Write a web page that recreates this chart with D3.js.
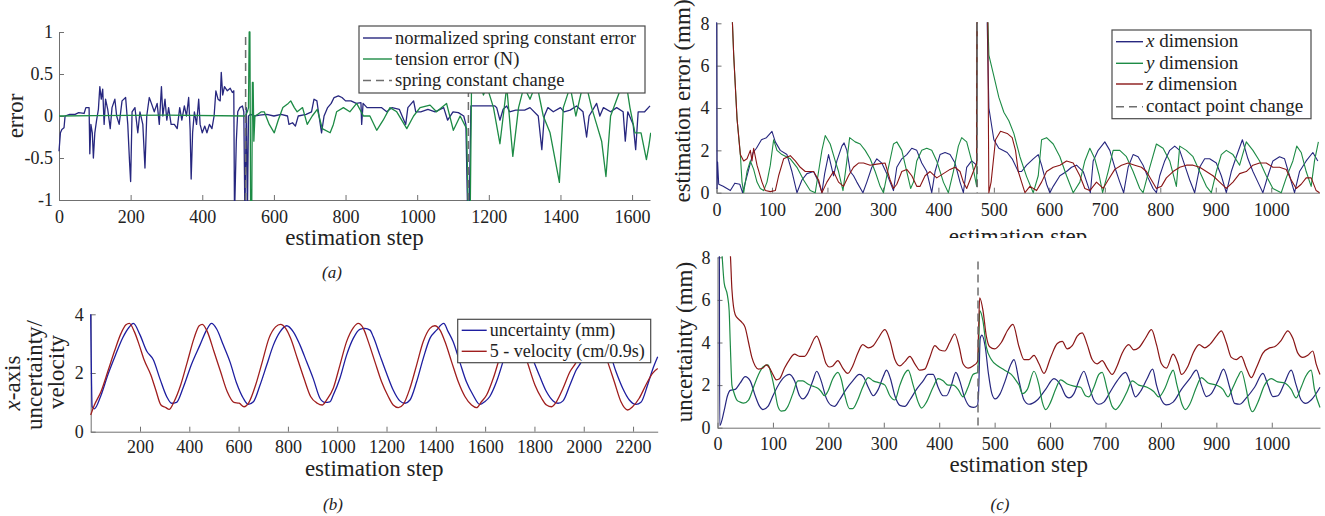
<!DOCTYPE html>
<html>
<head>
<meta charset="utf-8">
<script src="https://cdn.jsdelivr.net/npm/d3@7"></script>
<style>
  body { margin: 0; background: #fff; }
  svg, svg text { font-family: "Liberation Serif", "DejaVu Serif", "Noto Serif", serif; }
  .axis path, .axis line { stroke: #707070; stroke-width: 1; }
  .axis text { fill: #222; }
  .axis-label { fill: #222; font-size: 23px; }
  .legend-text { fill: #222; }
  .caption { fill: #222; font-size: 17px; font-style: italic; }
</style>
</head>
<body>
<div id="chart"></div>
<script>
// ---------- tick labels ----------
const stepTicksA = [0, 200, 400, 600, 800, 1000, 1200, 1400, 1600];
const errorTicks = [-1, -0.5, 0, 0.5, 1];
const stepTicksB = [200, 400, 600, 800, 1000, 1200, 1400, 1600, 1800, 2000, 2200];
const valueTicksB = [0, 2, 4];
const stepTicksC = [0, 100, 200, 300, 400, 500, 600, 700, 800, 900, 1000];
const mmTicksC = [0, 2, 4, 6, 8];

// ---------- (a) spring constant / tension error ----------
const springChangeSteps = [521, 1143];
const springError = [[0,-0.42],[4,-0.2],[8,-0.16],[14,-0.14],[17,0.0],[30,0.02],[45,0.02],[55,0.04],[70,0.03],[75,0.1],[84,0.1],[86,-0.45],[89,-0.1],[93,-0.2],[96,-0.5],[100,-0.2],[105,-0.05],[110,0.08],[114,0.35],[118,0.2],[122,0.32],[126,-0.1],[130,0.2],[136,0.08],[143,-0.15],[148,0.1],[156,0.2],[161,0.0],[168,-0.1],[176,0.18],[186,0.22],[192,-0.1],[197,-0.55],[200,-0.78],[204,0.05],[212,0.1],[220,-0.2],[226,0.05],[234,-0.1],[240,-0.62],[245,0.0],[252,0.22],[258,0.15],[266,0.05],[274,0.15],[280,-0.1],[286,0.35],[290,0.0],[296,0.2],[301,-0.05],[306,0.1],[313,-0.1],[322,-0.1],[330,-0.15],[337,0.1],[343,-0.05],[350,0.12],[356,0.0],[362,0.22],[366,-0.15],[369,-0.75],[373,-0.2],[378,0.05],[384,-0.1],[390,0.2],[394,-0.1],[400,-0.2],[407,-0.12],[413,-0.2],[420,-0.1],[427,-0.15],[433,0.0],[438,0.3],[444,0.2],[450,0.18],[453,0.52],[457,0.25],[462,0.35],[470,0.3],[478,0.33],[484,0.28],[488,0.3],[490,-1.2],[495,-0.3],[499,0.05],[505,0.1],[512,0.12],[516,0.05],[519,-1.2],[523,0.1],[526,-1.2],[529,0.0],[535,0.02],[545,0.0],[560,0.01],[580,0.02],[600,0.0],[620,0.02],[638,0.0],[642,-0.1],[652,-0.08],[660,-0.12],[668,0.0],[690,0.02],[705,0.05],[712,0.2],[720,0.18],[726,0.0],[733,-0.2],[740,0.0],[750,0.1],[760,0.15],[768,0.22],[780,0.24],[790,0.22],[800,0.18],[815,0.18],[830,0.15],[843,0.16],[845,-0.1],[849,0.15],[860,0.1],[880,0.1],[900,0.1],[915,0.05],[930,0.1],[950,0.08],[968,-0.1],[974,0.1],[990,0.18],[996,0.05],[1010,0.05],[1030,0.08],[1050,0.05],[1074,0.1],[1085,-0.05],[1100,0.05],[1115,0.04],[1130,0.0],[1136,-0.1],[1141,-1.2],[1145,-1.2],[1150,0.12],[1180,0.12],[1217,0.12],[1222,0.1],[1231,-0.05],[1240,0.08],[1250,0.12],[1258,0.05],[1275,0.07],[1300,0.07],[1315,0.1],[1338,0.0],[1348,-0.4],[1355,0.0],[1365,0.1],[1380,0.05],[1400,0.1],[1410,0.05],[1427,0.07],[1445,0.12],[1463,0.05],[1473,-0.25],[1480,0.0],[1501,0.15],[1510,0.0],[1520,0.1],[1540,0.05],[1557,0.1],[1575,0.05],[1581,-0.3],[1588,0.05],[1603,-0.1],[1610,-0.4],[1617,0.05],[1635,0.05],[1650,0.12]];
const tensionError = [[0,0.0],[100,0.005],[300,0.01],[520,0.0],[526,0.05],[529,0.1],[531,1.0],[533,1.0],[535,-1.2],[538,-1.2],[540,0.4],[542,0.4],[544,-0.3],[547,0.0],[555,0.02],[565,0.05],[573,0.05],[587,-0.1],[601,-0.2],[612,-0.05],[625,0.1],[640,0.15],[647,0.18],[657,0.1],[665,0.05],[680,0.1],[693,-0.1],[707,0.0],[721,0.08],[735,-0.15],[757,-0.2],[766,-0.1],[775,0.05],[794,0.1],[812,0.05],[831,0.15],[850,0.0],[868,0.0],[887,-0.17],[905,-0.05],[924,0.1],[943,0.05],[971,-0.15],[990,0.0],[1008,0.1],[1036,0.13],[1054,0.05],[1082,0.15],[1101,-0.17],[1120,0.0],[1138,-0.15],[1143,-1.2],[1148,-1.2],[1152,0.5],[1160,0.4],[1172,0.45],[1185,0.25],[1195,0.35],[1213,0.1],[1231,-0.33],[1250,0.35],[1267,-0.48],[1283,0.1],[1298,0.35],[1315,0.2],[1333,0.4],[1352,0.0],[1371,-0.2],[1397,-0.79],[1408,0.1],[1427,0.35],[1443,0.0],[1459,0.3],[1473,0.35],[1487,0.1],[1501,-0.1],[1515,-0.3],[1527,-0.72],[1540,0.0],[1566,0.3],[1585,0.35],[1594,0.1],[1608,-0.2],[1625,-0.2],[1640,-0.52],[1647,-0.35],[1652,-0.2]];

// ---------- (b) x-axis uncertainty vs velocity ----------
const uncertaintyB = [[0,4.0],[6,0.85],[15,0.78],[40,1.2],[70,1.95],[100,2.6],[130,3.2],[155,3.55],[173,3.69],[200,3.3],[227,2.75],[254,2.45],[281,1.8],[308,1.2],[328,0.97],[348,1.0],[375,1.5],[409,2.3],[443,2.95],[470,3.46],[490,3.69],[511,3.5],[538,2.95],[565,2.38],[592,1.65],[619,1.14],[639,0.93],[660,1.02],[687,1.59],[714,2.27],[741,2.95],[768,3.4],[795,3.61],[822,3.4],[849,2.95],[876,2.38],[903,1.8],[930,1.14],[950,1.0],[970,1.02],[984,1.25],[1011,1.82],[1038,2.61],[1065,3.18],[1092,3.49],[1112,3.52],[1133,3.46],[1146,3.24],[1173,2.61],[1200,1.99],[1227,1.42],[1254,1.05],[1275,0.97],[1295,1.08],[1322,1.7],[1349,2.5],[1376,3.18],[1403,3.46],[1432,3.69],[1450,3.41],[1470,3.07],[1497,2.38],[1524,1.7],[1551,1.25],[1578,0.93],[1598,1.02],[1619,1.2],[1646,1.7],[1680,2.6],[1705,3.3],[1728,3.62],[1755,3.3],[1795,2.44],[1822,1.88],[1849,1.36],[1876,1.05],[1896,0.97],[1916,1.05],[1944,1.59],[1970,2.11],[1990,2.38],[2025,3.2],[2055,3.62],[2090,3.1],[2131,2.04],[2158,1.48],[2185,1.08],[2212,0.93],[2232,1.0],[2259,1.59],[2279,2.11],[2300,2.55]];
const velocityB = [[0,0.57],[15,0.91],[42,1.37],[69,2.04],[96,2.73],[123,3.35],[143,3.64],[157,3.69],[177,3.41],[197,2.95],[217,2.44],[244,1.93],[264,1.42],[285,0.91],[305,0.82],[318,0.76],[338,1.02],[365,1.59],[392,2.38],[419,3.18],[440,3.61],[453,3.66],[473,3.41],[500,2.73],[527,2.04],[554,1.36],[581,1.0],[602,0.97],[622,0.85],[642,1.0],[669,1.59],[696,2.38],[723,3.18],[750,3.57],[770,3.66],[791,3.52],[811,3.18],[838,2.5],[865,1.82],[892,1.2],[919,0.97],[939,0.91],[957,1.08],[984,1.48],[1011,2.27],[1038,3.07],[1065,3.54],[1085,3.69],[1106,3.52],[1126,3.07],[1153,2.38],[1180,1.7],[1207,1.2],[1227,0.91],[1248,0.82],[1268,0.93],[1295,1.48],[1322,2.27],[1349,3.07],[1376,3.52],[1396,3.61],[1417,3.46],[1437,3.07],[1464,2.38],[1491,1.7],[1518,1.2],[1545,0.91],[1565,0.82],[1585,1.02],[1606,1.25],[1633,1.82],[1665,2.7],[1690,3.35],[1712,3.62],[1740,3.2],[1775,2.27],[1802,1.59],[1829,1.14],[1849,0.91],[1870,0.85],[1889,1.02],[1916,1.48],[1944,2.04],[1970,2.38],[2005,3.2],[2035,3.62],[2065,3.1],[2097,2.38],[2124,1.7],[2151,1.02],[2178,0.74],[2198,0.85],[2225,1.14],[2252,1.59],[2279,1.99],[2300,2.15]];

// ---------- (c) contact point estimation ----------
const contactChangeSteps = [470];
const xError = [[0,12],[1,0.2],[2,1.45],[4,0.4],[12,0.3],[25,0.1],[33,0.45],[42,0.4],[47,0.0],[57,1.0],[66,1.9],[72,2.1],[81,2.5],[90,2.6],[100,2.9],[106,2.4],[115,2.0],[127,1.8],[136,1.0],[145,0.0],[154,0.6],[163,0.9],[175,1.0],[184,0.5],[190,0.0],[195,0.9],[202,1.8],[211,0.8],[217,1.5],[226,2.2],[230,2.35],[235,2.0],[241,1.0],[247,0.8],[253,0.5],[264,0.0],[271,0.5],[280,1.2],[289,1.6],[298,1.4],[307,0.9],[319,0.1],[325,1.2],[334,1.6],[343,1.8],[352,2.1],[361,2.0],[370,1.4],[379,1.0],[388,0.0],[394,1.0],[403,1.8],[412,1.9],[421,1.8],[430,1.4],[439,0.5],[445,0.0],[451,1.2],[460,1.5],[469,1.3],[470,12],[485,12],[491,4.0],[500,2.5],[509,2.1],[524,1.9],[533,1.6],[544,1.0],[550,1.0],[559,1.3],[571,1.6],[580,1.8],[586,1.3],[595,0.4],[601,0.0],[607,0.3],[619,0.8],[631,1.0],[640,1.2],[649,1.3],[661,1.0],[670,0.3],[674,0.0],[679,1.5],[688,2.0],[700,2.4],[709,2.0],[718,1.2],[727,0.5],[734,0.0],[742,1.2],[751,1.8],[760,1.7],[769,1.3],[778,0.7],[787,0.2],[793,0.0],[799,0.8],[808,1.5],[817,2.0],[826,2.2],[835,2.0],[844,1.3],[853,0.6],[862,0.0],[871,1.2],[880,1.6],[889,1.6],[901,1.4],[910,0.8],[919,0.0],[928,1.0],[937,1.7],[948,2.5],[958,1.6],[967,1.0],[976,0.5],[985,0.0],[994,0.8],[1003,1.5],[1015,1.7],[1024,1.6],[1033,0.8],[1042,0.0],[1051,1.0],[1063,1.5],[1075,1.9],[1084,1.5]];
const yError = [[0,12],[28,8.5],[31,6.5],[37,3.5],[43,1.8],[46,0.5],[49,0.0],[55,1.0],[61,1.5],[67,1.1],[73,0.5],[79,0.2],[85,0.1],[91,0.5],[97,1.3],[103,2.5],[109,2.0],[118,1.8],[133,1.6],[145,1.2],[157,0.6],[169,0.1],[178,0.0],[184,1.0],[190,2.0],[196,2.7],[205,2.3],[214,1.5],[220,1.0],[228,0.1],[235,1.5],[240,2.6],[250,2.4],[259,2.3],[268,2.0],[277,1.6],[286,1.0],[295,0.3],[301,0.0],[310,1.2],[319,2.3],[325,2.4],[334,2.0],[343,1.0],[350,0.2],[355,0.5],[361,1.5],[370,2.0],[379,2.1],[388,2.0],[397,1.5],[409,0.5],[418,0.0],[427,1.0],[436,2.2],[442,2.6],[451,2.4],[460,1.5],[469,0.3],[470,12],[485,12],[491,6.5],[500,5.5],[509,4.5],[518,3.8],[527,3.4],[536,2.8],[547,1.7],[559,0.76],[571,0.0],[580,0.8],[586,2.5],[595,2.6],[607,2.3],[619,1.7],[631,0.8],[643,0.0],[655,0.5],[664,1.5],[673,2.1],[682,1.6],[690,0.8],[696,0.0],[706,1.0],[715,2.0],[727,2.0],[739,1.7],[751,1.0],[763,0.2],[769,0.0],[781,1.2],[793,2.3],[805,2.1],[817,1.5],[829,0.3],[835,2.2],[847,2.0],[859,1.7],[871,1.0],[883,0.3],[892,0.0],[901,1.0],[910,1.8],[919,2.0],[931,1.8],[943,1.3],[955,2.4],[967,2.0],[979,1.5],[991,0.8],[1003,0.2],[1018,0.0],[1027,0.7],[1039,1.5],[1046,2.2],[1054,1.9],[1063,1.0],[1072,0.3],[1078,1.5],[1085,2.4]];
const zError = [[0,12],[28,8.5],[31,6.5],[37,3.5],[43,1.8],[49,1.5],[55,1.6],[61,2.0],[64,1.5],[67,2.1],[73,1.3],[82,0.5],[88,0.1],[97,0.05],[106,0.1],[112,0.8],[121,1.6],[133,1.75],[142,1.5],[151,1.2],[160,1.0],[175,1.0],[184,0.6],[190,0.0],[199,0.5],[211,1.0],[220,0.5],[229,0.3],[238,0.8],[247,1.2],[256,1.4],[265,1.4],[277,1.3],[289,1.35],[304,1.4],[313,0.6],[319,0.2],[325,0.4],[334,1.0],[343,1.1],[352,0.8],[361,0.3],[367,0.3],[376,0.8],[385,1.0],[397,0.7],[409,0.9],[421,1.1],[430,1.2],[439,1.0],[445,0.5],[451,0.2],[460,0.8],[469,1.4],[470,12],[488,12],[491,0.0],[495,0.5],[503,2.5],[512,2.9],[524,2.8],[533,2.6],[539,2.0],[544,1.0],[550,0.5],[556,0.0],[565,0.3],[577,0.1],[586,0.5],[595,1.0],[607,1.2],[619,1.3],[631,1.5],[643,1.4],[655,0.8],[664,0.2],[673,0.1],[685,0.5],[697,0.2],[706,0.6],[718,1.1],[730,1.3],[742,1.4],[754,1.3],[766,1.2],[775,1.0],[784,0.6],[793,0.2],[802,0.3],[811,0.7],[823,1.0],[835,1.2],[847,1.3],[859,1.3],[871,1.2],[883,1.0],[895,0.8],[907,0.5],[919,0.2],[931,0.5],[943,0.9],[955,1.0],[967,1.3],[979,1.4],[991,1.4],[1003,1.2],[1015,1.2],[1027,1.1],[1036,0.6],[1045,0.2],[1054,0.4],[1063,0.7],[1072,0.7],[1081,0.1],[1087,0.0]];

const xUncertainty = [[0,12],[3,12],[4,0.1],[12,0.8],[18,1.5],[23,1.75],[32,1.8],[41,2.1],[50,2.4],[59,2.2],[68,1.5],[76,1.0],[82,0.85],[91,1.0],[100,1.5],[112,2.1],[124,2.45],[130,2.5],[139,2.2],[148,1.5],[154,1.35],[163,1.6],[172,2.2],[179,2.65],[187,2.2],[196,1.4],[205,1.05],[211,1.0],[220,1.3],[232,1.8],[244,2.2],[256,2.5],[263,2.4],[272,1.9],[281,1.5],[290,1.8],[299,2.4],[305,2.7],[312,2.3],[320,1.5],[329,1.05],[338,1.0],[347,1.3],[359,1.8],[371,2.2],[380,2.5],[389,2.5],[398,1.9],[407,1.5],[413,1.5],[422,2.0],[430,2.6],[437,2.2],[446,1.4],[455,1.0],[462,0.95],[469,1.05],[471,1.6],[474,4.2],[477,4.35],[483,3.8],[489,2.5],[495,1.6],[501,1.35],[510,1.6],[519,2.2],[528,2.9],[535,3.2],[544,2.2],[553,1.3],[562,1.1],[577,1.3],[592,1.8],[607,2.3],[619,2.0],[628,1.5],[634,1.4],[643,1.6],[652,2.2],[661,2.65],[670,2.0],[679,1.3],[688,1.1],[697,1.2],[709,1.7],[721,2.2],[736,2.6],[745,2.1],[754,1.45],[763,1.7],[775,2.3],[785,2.75],[792,2.0],[801,1.3],[810,1.07],[822,1.2],[837,1.8],[852,2.3],[864,2.7],[873,2.0],[882,1.46],[891,1.6],[903,2.2],[913,2.75],[924,1.9],[933,1.14],[942,1.1],[954,1.4],[969,1.9],[984,2.55],[993,2.0],[1002,1.46],[1011,1.5],[1023,2.1],[1035,2.7],[1044,2.0],[1053,1.3],[1061,1.14],[1071,1.3],[1087,1.9]];
const yUncertainty = [[0,12],[8,8.2],[12,6.8],[18,6.2],[21,5.5],[23,4.0],[26,2.0],[29,1.7],[35,1.3],[41,1.2],[47,1.15],[56,1.3],[65,1.9],[74,2.5],[82,2.85],[91,2.95],[97,2.5],[103,1.8],[109,1.0],[115,0.78],[121,0.8],[127,1.0],[136,1.6],[145,2.2],[154,2.2],[163,2.05],[172,1.95],[181,1.85],[187,1.7],[193,1.5],[199,1.7],[208,2.3],[217,2.6],[223,2.3],[229,1.6],[238,0.9],[244,0.9],[253,1.3],[262,1.9],[272,2.35],[281,2.2],[293,2.1],[302,2.0],[311,1.5],[320,1.3],[329,2.0],[338,2.55],[344,2.7],[353,2.0],[362,1.2],[368,0.92],[377,1.2],[389,1.9],[398,2.3],[407,2.2],[416,2.0],[425,2.0],[434,1.8],[443,1.45],[452,1.9],[461,2.5],[469,2.6],[471,3.5],[473,5.5],[479,5.0],[485,3.8],[494,3.2],[506,2.9],[518,2.7],[530,2.5],[539,2.2],[544,2.0],[550,1.6],[559,1.8],[571,2.65],[580,2.0],[586,1.2],[592,0.85],[601,1.2],[610,1.8],[619,2.25],[631,2.05],[643,1.95],[655,1.9],[664,1.5],[670,1.45],[679,1.9],[688,2.5],[694,2.6],[703,1.8],[712,1.0],[718,0.85],[727,1.1],[739,1.7],[748,2.2],[760,2.0],[775,1.9],[787,1.7],[796,1.45],[808,1.9],[817,2.5],[822,2.7],[829,2.0],[838,1.1],[844,0.85],[852,1.1],[864,1.9],[873,2.35],[885,2.1],[900,2.0],[912,1.8],[921,1.45],[930,1.9],[939,2.4],[945,2.65],[954,1.8],[960,1.0],[965,0.75],[975,1.2],[987,2.0],[999,2.3],[1011,2.15],[1023,2.1],[1035,1.8],[1044,1.4],[1053,1.9],[1061,2.4],[1071,2.7],[1077,1.8],[1087,0.95]];
const zUncertainty = [[0,12],[23,8.2],[26,6.5],[32,5.3],[38,5.1],[44,4.95],[50,4.7],[56,4.0],[62,3.3],[68,2.9],[74,2.75],[82,2.8],[88,2.95],[94,2.8],[100,2.5],[106,2.25],[112,2.3],[121,2.8],[130,3.2],[139,3.45],[148,3.35],[157,3.35],[166,3.7],[175,4.2],[179,4.3],[187,3.8],[196,3.0],[202,2.85],[208,2.9],[217,3.15],[226,2.8],[235,2.55],[244,2.9],[253,3.5],[262,3.9],[272,3.75],[281,3.85],[290,4.2],[302,4.6],[311,4.1],[320,3.2],[329,2.9],[338,3.1],[347,3.35],[356,3.0],[365,2.7],[374,2.75],[383,3.3],[392,3.85],[401,3.65],[410,3.6],[419,4.0],[428,4.4],[436,3.8],[443,3.0],[452,2.8],[461,2.9],[469,3.1],[471,4.5],[473,6.1],[479,5.5],[485,4.3],[491,3.8],[500,3.7],[512,4.0],[524,4.6],[533,4.85],[544,3.8],[553,3.2],[562,3.2],[571,3.4],[580,3.0],[589,2.55],[601,3.3],[613,3.95],[622,4.05],[631,3.7],[640,3.85],[649,4.3],[658,4.45],[667,3.9],[676,3.2],[685,3.0],[694,3.15],[703,2.8],[712,2.5],[721,2.9],[730,3.5],[742,3.9],[751,3.65],[760,3.75],[772,4.2],[783,4.6],[792,3.9],[801,3.0],[810,2.8],[822,3.45],[831,3.0],[837,2.5],[849,2.9],[858,3.5],[869,3.9],[879,3.75],[888,3.9],[900,4.3],[909,4.55],[918,4.0],[927,3.3],[936,3.2],[945,3.35],[954,2.8],[963,2.35],[972,2.8],[984,3.5],[996,3.75],[1005,3.8],[1017,4.1],[1029,4.55],[1038,4.2],[1047,3.5],[1056,3.3],[1065,3.4],[1074,3.6],[1080,3.0],[1087,2.5]];

// ---------- colours ----------
const NAVY = '#27277f';
const GREEN = '#1d8b45';
const DARKRED = '#8a1616';
const BLUE_B = '#1e1ea0';
const RED_B = '#a01e1e';
const DASH = '#6e6e6e';
const SERIF = '"Liberation Serif", "DejaVu Serif", "Noto Serif", serif';

class LinePanel {
  /**
   * One axes box: scales, inward ticks, clipped lines, change markers, legend
   * @param {Object}
   * @param {Object} d3 selection of the svg
   */
  constructor(_config, _svg) {
    this.config = _config;
    this.svg = _svg;
    this.initVis();
  }

  initVis() {
    const vis = this;
    const c = vis.config;

    vis.xScale = d3.scaleLinear().domain(c.xDomain).range(c.xRange);
    vis.yScale = d3.scaleLinear().domain(c.yDomain).range(c.yRange);

    vis.g = vis.svg.append('g');

    // lines are clipped to the axes box
    vis.g.append('clipPath').attr('id', `clip-${c.id}`)
      .append('rect')
      .attr('x', c.xRange[0] - 1)
      .attr('y', c.yRange[1] - 1)
      .attr('width', c.xRange[1] - c.xRange[0] + 2)
      .attr('height', c.yRange[0] - c.yRange[1] + 2);

    vis.xAxis = d3.axisBottom(vis.xScale)
      .tickValues(c.xTicks)
      .tickSizeInner(-5)
      .tickSizeOuter(0)
      .tickPadding(c.xPad)
      .tickFormat((d) => String(d));

    vis.yAxis = d3.axisLeft(vis.yScale)
      .tickValues(c.yTicks)
      .tickSizeInner(-5)
      .tickSizeOuter(0)
      .tickPadding(c.yPad)
      .tickFormat((d) => String(d));

    vis.xAxisG = vis.g.append('g')
      .attr('class', 'axis x-axis')
      .attr('transform', `translate(0,${c.yRange[0]})`);

    vis.yAxisG = vis.g.append('g')
      .attr('class', 'axis y-axis')
      .attr('transform', `translate(${c.xRange[0]},0)`);

    vis.chart = vis.g.append('g').attr('clip-path', `url(#clip-${c.id})`);

    vis.renderVis();
  }

  renderVis() {
    const vis = this;
    const c = vis.config;

    vis.xAxisG.call(vis.xAxis);
    vis.yAxisG.call(vis.yAxis);
    vis.g.selectAll('.axis')
      .attr('font-family', SERIF)
      .attr('font-size', c.tickFont);

    const line = d3.line()
      .x((d) => vis.xScale(d[0]))
      .y((d) => vis.yScale(d[1]))
      .curve(c.curve);

    vis.chart.selectAll('.series')
      .data(c.series)
      .join('path')
      .attr('class', 'series')
      .attr('fill', 'none')
      .attr('stroke', (d) => d.color)
      .attr('stroke-width', c.lineWidth)
      .attr('stroke-linejoin', 'round')
      .attr('d', (d) => line(d.data));

    vis.chart.selectAll('.change')
      .data(c.changes)
      .join('line')
      .attr('class', 'change')
      .attr('x1', (d) => vis.xScale(d))
      .attr('x2', (d) => vis.xScale(d))
      .attr('y1', vis.yScale(c.changeTop))
      .attr('y2', vis.yScale(c.yDomain[0]))
      .attr('stroke', DASH)
      .attr('stroke-width', 1.5)
      .attr('stroke-dasharray', '8,5');

    // x label (the top right one is cut by the panel below)
    const xl = vis.g.append('text')
      .attr('class', 'axis-label')
      .attr('x', (c.xRange[0] + c.xRange[1]) / 2)
      .attr('y', c.xLabelY)
      .attr('text-anchor', 'middle')
      .text('estimation step');
    if (c.xLabelClip) {
      vis.g.append('clipPath').attr('id', `lclip-${c.id}`)
        .append('rect').attr('x', 0).attr('y', 0).attr('width', 1325).attr('height', c.xLabelClip);
      xl.attr('clip-path', `url(#lclip-${c.id})`);
    }

    // y label, rotated, one or more lines
    c.yLabel.lines.forEach((segs, i) => {
      const t = vis.g.append('text')
        .attr('class', 'axis-label')
        .attr('font-size', c.yLabel.font)
        .attr('text-anchor', 'middle')
        .attr('transform', `translate(${c.yLabel.x[i]},${c.yLabel.y[i]}) rotate(-90)`);
      addSegments(t, segs);
    });

    if (c.legend) drawLegend(vis.g, c.legend);
  }
}

function addSegments(text, segs) {
  segs.forEach((s) => {
    text.append('tspan')
      .attr('font-style', s.it ? 'italic' : null)
      .text(s.t);
  });
}

function drawLegend(g, L) {
  const lg = g.append('g').attr('class', 'legend');
  lg.append('rect')
    .attr('x', L.x).attr('y', L.y)
    .attr('width', L.w).attr('height', L.h)
    .attr('fill', '#fff')
    .attr('stroke', '#4a4a4a')
    .attr('stroke-width', 1.2);
  L.items.forEach((item, i) => {
    const cy = L.y + L.rows[i];
    lg.append('line')
      .attr('x1', L.x + 4).attr('x2', L.x + 4 + L.sample)
      .attr('y1', cy).attr('y2', cy)
      .attr('stroke', item.color)
      .attr('stroke-width', item.dash ? 1.6 : 1.4)
      .attr('stroke-dasharray', item.dash ? '8,5' : null);
    const t = lg.append('text')
      .attr('class', 'legend-text')
      .attr('x', L.x + L.sample + 7)
      .attr('y', cy + L.font * 0.3)
      .attr('font-size', L.font);
    addSegments(t, item.label);
  });
}

const svg = d3.select('#chart').append('svg')
  .attr('width', 1325)
  .attr('height', 516)
  .attr('font-family', SERIF);

new LinePanel({
  id: 'a',
  xDomain: [0, 1650], xRange: [59, 650],
  yDomain: [-1, 1], yRange: [200, 32],
  xTicks: stepTicksA, yTicks: errorTicks,
  xPad: 10, yPad: 6, tickFont: 18,
  curve: d3.curveLinear, lineWidth: 1.3,
  series: [
    { data: springError, color: NAVY },
    { data: tensionError, color: GREEN },
  ],
  changes: springChangeSteps, changeTop: 0.94,
  xLabelY: 245,
  yLabel: { x: [23], y: [116], font: 23, lines: [[{ t: 'error' }]] },
  legend: {
    x: 359, y: 26, w: 286, h: 67, rows: [12, 33, 54.5], sample: 29, font: 18.5,
    items: [
      { label: [{ t: 'normalized spring constant error' }], color: NAVY },
      { label: [{ t: 'tension error (N)' }], color: GREEN },
      { label: [{ t: 'spring constant change' }], color: DASH, dash: true },
    ],
  },
}, svg);

new LinePanel({
  id: 'b',
  xDomain: [0, 2300], xRange: [90.7, 657.7],
  yDomain: [0, 4], yRange: [431.7, 314.3],
  xTicks: stepTicksB, yTicks: valueTicksB,
  xPad: 8.5, yPad: 7, tickFont: 18,
  curve: d3.curveMonotoneX, lineWidth: 1.3,
  series: [
    { data: uncertaintyB, color: BLUE_B },
    { data: velocityB, color: RED_B },
  ],
  changes: [], changeTop: 4,
  xLabelY: 476,
  yLabel: {
    x: [20, 42, 64], y: [383, 375, 372], font: 22,
    lines: [[{ t: 'x', it: true }, { t: '-axis' }], [{ t: 'uncertainty/' }], [{ t: 'velocity' }]],
  },
  legend: {
    x: 457.7, y: 319.3, w: 193, h: 43.4, rows: [11, 32], sample: 25, font: 18,
    items: [
      { label: [{ t: 'uncertainty (mm)' }], color: BLUE_B },
      { label: [{ t: '5 - velocity (cm/0.9s)' }], color: RED_B },
    ],
  },
}, svg);

new LinePanel({
  id: 'ct',
  xDomain: [0, 1087], xRange: [716.5, 1319.5],
  yDomain: [0, 8], yRange: [192.7, 23.3],
  xTicks: stepTicksC, yTicks: mmTicksC,
  xPad: 11, yPad: 7, tickFont: 18,
  curve: d3.curveLinear, lineWidth: 1.1,
  series: [
    { data: xError, color: NAVY },
    { data: yError, color: GREEN },
    { data: zError, color: DARKRED },
  ],
  changes: contactChangeSteps, changeTop: 8,
  xLabelY: 244, xLabelClip: 238,
  yLabel: { x: [690], y: [101], font: 22, lines: [[{ t: 'estimation error (mm)' }]] },
  legend: {
    x: 1112, y: 30, w: 199, h: 88.7, rows: [11.7, 33.3, 54, 76.7], sample: 27, font: 19,
    items: [
      { label: [{ t: 'x', it: true }, { t: ' dimension' }], color: NAVY },
      { label: [{ t: 'y', it: true }, { t: ' dimension' }], color: GREEN },
      { label: [{ t: 'z', it: true }, { t: ' dimension' }], color: DARKRED },
      { label: [{ t: 'contact point change' }], color: DASH, dash: true },
    ],
  },
}, svg);

new LinePanel({
  id: 'cb',
  xDomain: [0, 1087], xRange: [717.5, 1320],
  yDomain: [0, 8], yRange: [427.7, 257.3],
  xTicks: stepTicksC, yTicks: mmTicksC,
  xPad: 9.5, yPad: 7, tickFont: 18,
  curve: d3.curveMonotoneX, lineWidth: 1.2,
  series: [
    { data: xUncertainty, color: NAVY },
    { data: yUncertainty, color: GREEN },
    { data: zUncertainty, color: DARKRED },
  ],
  changes: contactChangeSteps, changeTop: 7.8,
  xLabelY: 472,
  yLabel: { x: [692], y: [342], font: 23, lines: [[{ t: 'uncertainty (mm)' }]] },
  legend: null,
}, svg);

// sub-figure captions
svg.selectAll('.caption')
  .data([{ t: '(a)', x: 332, y: 278 }, { t: '(b)', x: 333, y: 510 }, { t: '(c)', x: 1000, y: 510 }])
  .join('text')
  .attr('class', 'caption')
  .attr('x', (d) => d.x)
  .attr('y', (d) => d.y)
  .attr('text-anchor', 'middle')
  .text((d) => d.t);
</script>
</body>
</html>
